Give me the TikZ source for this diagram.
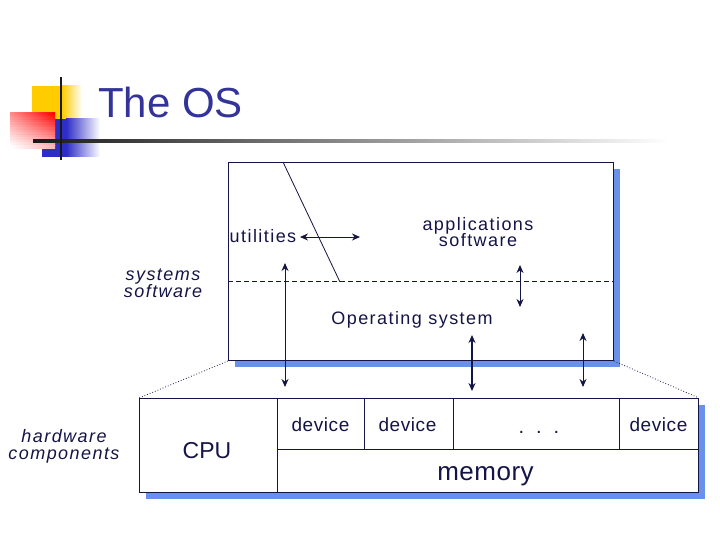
\documentclass[tikz,border=0pt]{standalone}
\usepackage{fontspec}
\setmainfont{Liberation Sans}
\usetikzlibrary{arrows.meta}
\definecolor{ink}{RGB}{20,20,70}
\definecolor{shadowblue}{RGB}{105,145,235}
\definecolor{titleblue}{RGB}{51,51,153}
\definecolor{decoyellow}{RGB}{255,204,0}
\definecolor{decoblue}{RGB}{45,45,200}
\begin{document}
\begin{tikzpicture}[x=1pt,y=-1pt,
  lbl/.style={text=ink, inner sep=0pt, align=center, anchor=base,
    font=\fontsize{18}{17}\selectfont\addfontfeature{LetterSpace=8}},
  itlbl/.style={lbl, font=\fontsize{18}{17}\itshape\selectfont\addfontfeature{LetterSpace=8}},
  box/.style={draw=ink, line width=1pt, inner sep=0pt, anchor=north west},
  arr/.style={draw=ink, line width=1pt, {Stealth[length=8pt,width=7pt]}-{Stealth[length=8pt,width=7pt]}},
  zoomline/.style={draw=ink, line width=0.8pt, dotted}
]
\useasboundingbox (0,0) rectangle (720,540);

% --- title decoration
\fill[decoyellow] (32,86) rectangle (62,119);
\shade[left color=decoyellow, right color=white] (62,86) rectangle (82,119);
\fill[decoblue] (42,119) rectangle (66,157);
\shade[left color=decoblue, right color=white] (66,119) rectangle (100,157);
\foreach \i in {0,...,13}{
  \pgfmathsetmacro\lc{45*(1-\i/13)}
  \pgfmathsetmacro\rc{100-70*\i/13}
  \shade[left color=red!\lc!white, right color=red!\rc!white]
    (10,{113+2.5*\i}) rectangle (55,{113+2.5*(\i+1)+0.3});
}
\shade[left color=black!90, right color=white] (33,140) rectangle (670,142.2);
\fill[black!90] (60,77) rectangle (62.2,160);
\node[anchor=base west, inner sep=0pt, text=titleblue, font=\fontsize{42}{46}\selectfont] (title) at (98,118) {The OS};

% --- upper box
\fill[shadowblue] (235,169) rectangle (620,367);
\node[box, fill=white, minimum width=385pt, minimum height=198pt] (up) at (228,162) {};
\coordinate (dl) at (228,281);
\coordinate (dr) at (613,281);
\draw[ink, line width=0.8pt, dash pattern=on 5pt off 3pt] (dl) -- (dr);
\coordinate (diagtop) at (283,162);
\coordinate (diagbot) at (340,282);
\draw[ink, line width=0.8pt] (diagtop) -- (diagbot);

\node[lbl] (util) at (263,242) {utilities};
\node[lbl] (apps) at (478,247) {applications\\software};
\node[lbl] (os) at (412,324) {Operating system};
\node[itlbl] (sys) at (163,297) {systems\\software};
\node[itlbl] (hw) at (64,459) {hardware\\components};

% --- lower box
\fill[shadowblue] (146,405) rectangle (705,499);
\node[box, fill=white, minimum width=559pt, minimum height=94pt] (low) at (139,398) {};
\node[box, minimum width=138pt, minimum height=94pt] (cpu) at (139,398) {};
\node[box, minimum width=87pt, minimum height=51pt] (dev1) at (277,398) {};
\node[box, minimum width=89pt, minimum height=51pt] (dev2) at (364,398) {};
\node[box, line width=0.5pt, minimum width=166pt, minimum height=51pt] (dots) at (453,398) {};
\node[box, minimum width=79pt, minimum height=51pt] (dev3) at (619,398) {};
\node[box, minimum width=421pt, minimum height=43pt] (mem) at (277,449) {};

\node[lbl, font=\fontsize{23}{25}\selectfont] (cputxt) at (207,458) {CPU};
\node[lbl, font=\fontsize{19}{20}\selectfont\addfontfeature{LetterSpace=3}] (d1txt) at (320.5,431.5) {device};
\node[lbl, font=\fontsize{19}{20}\selectfont\addfontfeature{LetterSpace=3}] (d2txt) at (407.5,431.5) {device};
\node[lbl, font=\fontsize{20}{20}\selectfont\addfontfeature{LetterSpace=17}] (dotstxt) at (539,433) {. . .};
\node[lbl, font=\fontsize{19}{20}\selectfont\addfontfeature{LetterSpace=3}] (d3txt) at (658.5,431.5) {device};
\node[lbl, font=\fontsize{26}{28}\selectfont\addfontfeature{LetterSpace=2}] (memtxt) at (485.5,480) {memory};

% --- zoom lines
\draw[zoomline] (up.south west) -- (low.north west);
\draw[zoomline] (up.south east) -- (low.north east);

% --- arrows
\coordinate (u1) at (300,237);
\coordinate (u2) at (360,237);
\draw[arr] (u1) -- (u2);
\coordinate (a1t) at (285,263);
\coordinate (a1b) at (285,387);
\draw[arr] (a1t) -- (a1b);
\coordinate (a2t) at (520,265);
\coordinate (a2b) at (520,307);
\draw[arr] (a2t) -- (a2b);
\coordinate (a3t) at (472,335);
\coordinate (a3b) at (472,391);
\draw[arr, line width=2pt] (a3t) -- (a3b);
\coordinate (a4t) at (583,333);
\coordinate (a4b) at (583,387);
\draw[arr] (a4t) -- (a4b);
\end{tikzpicture}
\end{document}
